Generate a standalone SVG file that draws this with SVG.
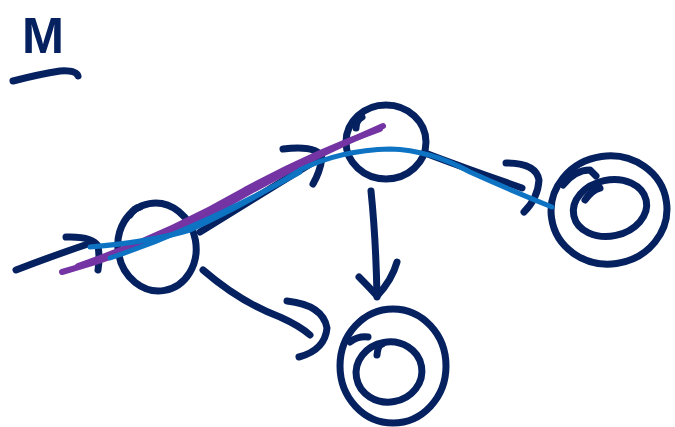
<svg xmlns="http://www.w3.org/2000/svg" width="675" height="427" viewBox="0 0 675 427">
<style>
.n{fill:none;stroke:#062160;stroke-width:7;stroke-linecap:round;stroke-linejoin:round}
.p{fill:none;stroke:#7434a3;stroke-width:6;stroke-linecap:round}
.b{fill:none;stroke:#0d73c2;stroke-width:5;stroke-linecap:round}
.t{font-family:"Liberation Sans Narrow","Liberation Sans",sans-serif;font-weight:bold;fill:#062160}
</style>
<rect width="675" height="427" fill="#fff"/>
<g id="title">
<text class="t" x="22" y="53" font-size="50" textLength="42" lengthAdjust="spacingAndGlyphs">M</text>
<path class="n" d="M13,81 Q40,74 60,71 Q76,70 78,76"/>
</g>
<g id="nodeA">
<ellipse class="n" cx="157" cy="247" rx="39" ry="44" transform="rotate(-10 157 247)"/>
<path class="n" d="M130,215 Q134,208 140,207"/>
</g>
<g id="nodeB">
<ellipse class="n" cx="386" cy="142" rx="40" ry="37"/>
<path class="n" d="M356,128 Q356,120 362,117"/>
</g>
<g id="nodeC">
<ellipse class="n" cx="609" cy="210" rx="58" ry="54" transform="rotate(-8 609 210)"/>
<ellipse class="n" cx="610" cy="208" rx="37" ry="28" transform="rotate(-12 610 208)"/>
<path class="n" d="M563,185 Q575,170 590,170 L596,176"/>
<path class="n" d="M585,200 Q592,190 600,188"/>
</g>
<g id="nodeD">
<ellipse class="n" cx="393" cy="366" rx="53" ry="57"/>
<ellipse class="n" cx="389" cy="372" rx="33" ry="30" transform="rotate(-10 389 372)"/>
<path class="n" d="M350,342 Q358,336 368,337"/>
<path class="n" d="M377,355 Q378,345 382,344"/>
</g>
<g id="connectors">
<path class="n" d="M16,270 Q55,255 88,244"/>
<path class="n" d="M66,237 Q92,236 98,246 Q100,258 98,270"/>
<path class="n" d="M200,232 Q260,195 320,158"/>
<path class="n" d="M283,149 Q318,145 322,158 Q320,172 313,184"/>
<path class="n" d="M425,153 Q470,170 522,188"/>
<path class="n" d="M506,163 Q536,163 539,180 Q538,198 524,212"/>
<path class="n" d="M371,191 Q376,240 377,297"/>
<path class="n" d="M359,277 Q370,288 377,296 Q392,280 397,262"/>
<path class="n" d="M203,270 Q240,302 280,317 Q300,326 310,335"/>
<path class="n" d="M287,301 Q323,305 327,328 Q325,350 299,357"/>
<path class="p" d="M62,272 Q150,248 230,203 Q300,162 383,126"/>
<path class="p" d="M78,266 Q165,236 245,190 Q315,152 380,129"/>
<path class="b" d="M90,247 Q150,242 190,230 Q250,202 300,170 Q340,150 390,149 Q430,150 470,172 Q510,190 552,207"/>
<path class="b" d="M110,258 Q200,228 300,172"/>
</g>
</svg>
